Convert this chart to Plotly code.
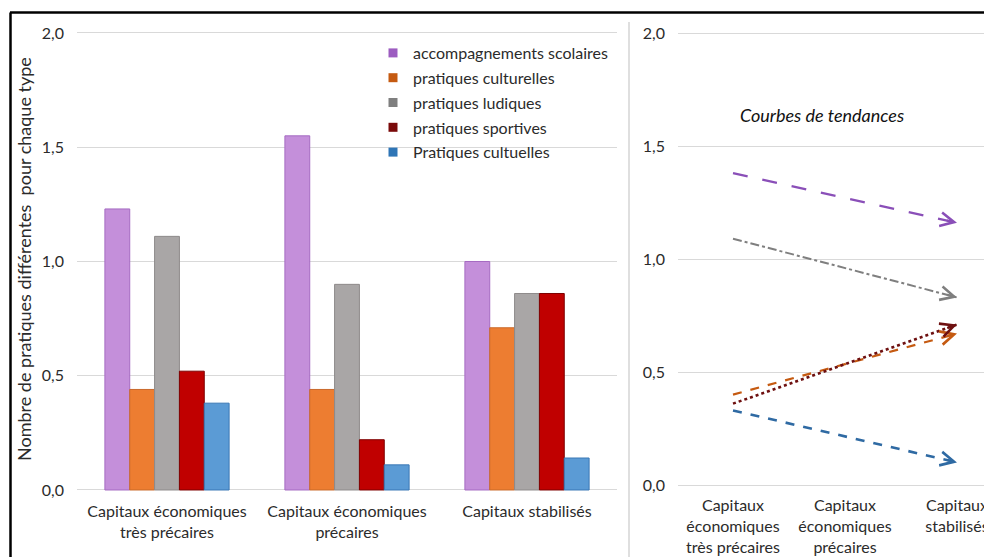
import plotly.graph_objects as go

# ---- data ----
categories = ["Capitaux économiques<br>très précaires",
              "Capitaux économiques<br>précaires",
              "Capitaux stabilisés"]
trend_categories = ["Capitaux<br>économiques<br>très précaires",
                    "Capitaux<br>économiques<br>précaires",
                    "Capitaux<br>stabilisés"]
series_names = ["accompagnements scolaires", "pratiques culturelles",
                "pratiques ludiques", "pratiques sportives", "Pratiques cultuelles"]
accompagnements = [1.23, 1.55, 1.00]
culturelles = [0.44, 0.44, 0.71]
ludiques = [1.11, 0.90, 0.86]
sportives = [0.52, 0.22, 0.86]
cultuelles = [0.38, 0.11, 0.14]
series_values = [accompagnements, culturelles, ludiques, sportives, cultuelles]

# trend lines (value at first category, value at last category)
trend_start = [1.38, 0.40, 1.09, 0.36, 0.33]
trend_end = [1.16, 0.67, 0.83, 0.71, 0.10]

y_ticks = [0, 0.5, 1.0, 1.5, 2.0]

# ---- styles ----
bar_fill = ["#C48FDA", "#ED7D31", "#A9A6A6", "#C00000", "#5B9BD5"]
bar_edge = ["#A56BC2", "#C9692A", "#8E8A8A", "#7E0000", "#3A78B5"]
legend_col = ["#9C5CC0", "#C55A11", "#7F7F7F", "#7A0A0A", "#2E75B6"]
trend_col = ["#8A4FB8", "#C55A11", "#7F7F7F", "#6E1010", "#2F6AA3"]
trend_dash = ["longdash", "dash", "dashdot", "dot", "dash"]
trend_width = [2.2, 2.2, 2.0, 2.6, 2.6]

FONT = "Lato"
TXT = "#2b2b2b"
GRID = "#D9D9D9"

W, H = 992, 557
OFF = 8  # page body margin


def px(x):
    return (x - OFF) / W


def py(y):
    return 1 - (y - OFF) / H


fig = go.Figure()

for i, name in enumerate(series_names):
    fig.add_trace(go.Bar(
        x=categories, y=series_values[i], name=name, showlegend=False,
        legendgroup="g%d" % i,
        marker=dict(color=bar_fill[i], line=dict(color=bar_edge[i], width=1)),
        xaxis="x", yaxis="y"))
    fig.add_trace(go.Scatter(
        x=[None], y=[None], mode="markers", name=name, legendgroup="g%d" % i,
        marker=dict(symbol="square", size=9, color=legend_col[i]),
        xaxis="x", yaxis="y"))

# right panel geometry (visible pixels)
X0_PX, UNIT_PX = 733, 112
Y0_PX, Y2_PX = 485, 33
YUNIT_PX = (Y0_PX - Y2_PX) / 2
last = len(trend_categories) - 1
trend_x = [0, last]

for i, name in enumerate(series_names):
    s, e = trend_start[i], trend_end[i]
    fig.add_trace(go.Scatter(
        x=trend_x, y=[s, e], mode="lines", showlegend=False,
        line=dict(color=trend_col[i], dash=trend_dash[i], width=trend_width[i]),
        xaxis="x2", yaxis="y2"))
    dx = last * UNIT_PX
    dy = -(e - s) * YUNIT_PX
    L = 12.0
    n = (dx ** 2 + dy ** 2) ** 0.5
    fig.add_annotation(
        x=last, y=e, xref="x2", yref="y2",
        ax=-L * dx / n, ay=-L * dy / n,
        text="", showarrow=True, arrowhead=5, arrowsize=1.35,
        arrowwidth=2, arrowcolor=trend_col[i], standoff=0)

pad = 0.006
fig.update_layout(
    width=W, height=H,
    margin=dict(l=0, r=0, t=0, b=0),
    paper_bgcolor="white", plot_bgcolor="white",
    separators=", ",
    font=dict(family=FONT, size=16, color=TXT),
    barmode="group", bargap=0.31, bargroupgap=0,
    showlegend=True,
    legend=dict(x=px(373), y=py(36), xanchor="left", yanchor="top",
                bgcolor="rgba(0,0,0,0)", font=dict(family=FONT, size=16, color=TXT),
                itemwidth=30, tracegroupgap=1),
    xaxis=dict(domain=[px(77), px(617)], showgrid=False, showline=False,
               zeroline=False, ticks="", tickfont=dict(size=16),
               ticklabelstandoff=9, automargin=False),
    yaxis=dict(domain=[py(490 + pad * 228.5), py(33 - pad * 228.5)],
               range=[-pad, 2 + pad],
               tickvals=y_ticks, tickformat=".1f", showgrid=True,
               gridcolor=GRID, gridwidth=1.2, zeroline=False, showline=False,
               ticklabelstandoff=12, tickfont=dict(size=16), automargin=False),
    xaxis2=dict(domain=[px(678), 1.0],
                range=[(678 - X0_PX) / UNIT_PX, (W + OFF - X0_PX) / UNIT_PX],
                tickvals=list(range(len(trend_categories))), ticktext=trend_categories,
                showgrid=False, showline=False, zeroline=False, ticks="",
                tickfont=dict(size=16), ticklabelstandoff=8, automargin=False,
                anchor="y2"),
    yaxis2=dict(domain=[py(Y0_PX + pad * YUNIT_PX), py(Y2_PX - pad * YUNIT_PX)],
                range=[-pad, 2 + pad],
                tickvals=y_ticks, tickformat=".1f", showgrid=True,
                gridcolor=GRID, gridwidth=1.2, zeroline=False, showline=False,
                ticklabelstandoff=12, tickfont=dict(size=16), automargin=False,
                anchor="x2"),
)

# y-axis title
fig.add_annotation(text="Nombre de pratiques différentes  pour chaque type",
                   xref="paper", yref="paper", x=px(24), y=py(259),
                   xanchor="center", yanchor="middle", textangle=-90,
                   showarrow=False, font=dict(family=FONT, size=18, color=TXT))

fig.add_annotation(text="<i>Courbes de tendances</i>", xref="paper", yref="paper",
                   x=px(822), y=py(115), xanchor="center", yanchor="middle",
                   showarrow=False, font=dict(family=FONT, size=18, color="#111"))

# frame and divider
fig.add_shape(type="line", xref="paper", yref="paper", x0=px(10), x1=1.0,
              y0=py(12.5), y1=py(12.5), line=dict(color="black", width=2.5))
fig.add_shape(type="line", xref="paper", yref="paper", x0=px(10.5), x1=px(10.5),
              y0=0, y1=py(12.5), line=dict(color="black", width=2.5))
fig.add_shape(type="line", xref="paper", yref="paper", x0=px(629), x1=px(629),
              y0=0, y1=py(22), line=dict(color="#D4D4D4", width=1.5))

fig.write_html("out.html")
